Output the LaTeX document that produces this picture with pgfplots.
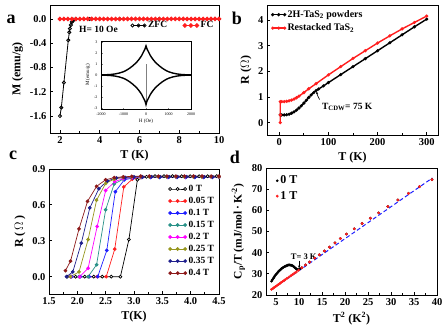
\documentclass[border=0pt]{standalone}
\usepackage{fontspec}
\setmainfont{Liberation Serif}
\usepackage{pgfplots}
\pgfplotsset{compat=1.18}
\usetikzlibrary{arrows.meta}
\definecolor{cred}{RGB}{255,30,30}
\definecolor{cblue}{RGB}{30,30,255}
\definecolor{cteal}{RGB}{40,145,135}
\definecolor{cmag}{RGB}{255,0,255}
\definecolor{colive}{RGB}{150,150,30}
\definecolor{cnavy}{RGB}{30,30,140}
\definecolor{cbrown}{RGB}{140,25,25}
\pgfplotsset{
  panel/.style={scale only axis, anchor=south west,
    axis line style={line width=1pt}, tick style={line width=0.8pt, black},
    tick align=inside, major tick length=3pt, minor tick length=2pt,
    xtick pos=bottom, ytick pos=left, minor x tick num=1,
    /pgf/number format/assume math mode=true,
    tick label style={font=\bfseries\fontsize{10.5}{12}\selectfont},
    label style={font=\bfseries\fontsize{12}{14}\selectfont},
    legend cell align=left,
  },
}
\begin{document}
\begin{tikzpicture}[x=1pt,y=1pt]
\path[use as bounding box] (0,0) rectangle (447,325);
% ---------------- panel a
\begin{axis}[panel, at={(50pt,192pt)}, width=169pt, height=128pt,
  xmin=1.5, xmax=10, ymin=-1.88, ymax=0.23,
  xtick={2,4,6,8,10}, ytick={-1.6,-1.2,-0.8,-0.4,0},
  yticklabel style={/pgf/number format/.cd, fixed, fixed zerofill, precision=1},
  xlabel={T (K)}, ylabel={M (emu/g)},
  legend style={at={(rel axis cs:0.46,0.84)}, anchor=west, draw=none, fill=none,
    legend columns=-1, font=\bfseries\fontsize{9.5}{11}\selectfont,
    /tikz/every even column/.append style={column sep=14pt}},
  legend image code/.code={\draw[#1] plot coordinates {(0pt,0pt) (6pt,0pt) (12pt,0pt)};},
  ]
\addplot[black, line width=0.8pt, mark=o, mark size=1.6pt] coordinates {
(2.0,-1.6)(2.07,-1.46)(2.2,-1.05)(2.42,-0.35)(2.47,-0.22)(2.5,-0.16)(2.55,-0.1)(2.6,-0.05)(2.65,-0.03)(2.7,-0.01)(2.8,0)(3.5,0)(5,0)(7,0)(10,0)};
\addplot[cred, line width=1pt, mark=*, mark size=1.8pt] coordinates {
(2.0,0)(2.2,0)(2.4,0)(2.6,0)(2.8,0)(3.0,0)(3.2,0)(3.4,0)(3.6,0)(3.8,0)(4.0,0)(4.2,0)(4.4,0)(4.6,0)(4.8,0)(5.0,0)(5.2,0)(5.4,0)(5.6,0)(5.8,0)(6.0,0)(6.2,0)(6.4,0)(6.6,0)(6.8,0)(7.0,0)(7.2,0)(7.4,0)(7.6,0)(7.8,0)(8.0,0)(8.2,0)(8.4,0)(8.6,0)(8.8,0)(9.0,0)(9.2,0)(9.4,0)(9.6,0)(9.8,0)(10.0,0)};
\legend{ZFC, FC}
\node[font=\bfseries\fontsize{9.5}{11}\selectfont] at (axis cs:3.94,-0.165) {H= 10 Oe};
\end{axis}
% inset
\begin{axis}[scale only axis, anchor=south west, at={(101pt,216pt)}, width=90pt, height=68pt,
  xmin=-2000, xmax=2000, ymin=-3.1, ymax=3.1,
  xtick={-2000,-1000,0,1000,2000}, ytick={-3,-2,-1,0,1,2,3},
  tick align=inside, major tick length=1.5pt, xtick pos=bottom, ytick pos=left,
  axis line style={line width=0.5pt}, tick style={line width=0.4pt},
  /pgf/number format/assume math mode=true,
  scaled x ticks=false,
  xticklabel style={font=\fontsize{4}{5}\selectfont, /pgf/number format/set thousands separator={}},
  yticklabel style={font=\fontsize{4}{5}\selectfont},
  xlabel={H (Oe)}, ylabel={M (emu/g)},
  label style={font=\fontsize{5}{6}\selectfont},
  xlabel style={yshift=3pt}, ylabel style={yshift=-3pt},
  ]
\addplot[gray, line width=0.4pt] coordinates {(0,1)(0,-2.4)};
\addplot[black, line width=1.4pt] coordinates {
(-2000,0.01)(-1800,0.02)(-1600,0.04)(-1400,0.09)(-1200,0.17)(-1000,0.3)(-900,0.4)(-800,0.52)(-700,0.66)(-600,0.82)(-500,1.0)(-400,1.2)(-300,1.45)(-250,1.6)(-200,1.75)(-150,1.95)(-100,2.15)(-50,2.35)(-25,2.5)(0,2.65)(25,2.5)(50,2.35)(100,2.15)(150,1.95)(200,1.75)(250,1.6)(300,1.45)(400,1.2)(500,1.0)(600,0.82)(700,0.66)(800,0.52)(900,0.4)(1000,0.3)(1200,0.17)(1400,0.09)(1600,0.04)(1800,0.02)(2000,0.01)};
\addplot[black, line width=1.4pt] coordinates {
(-2000,-0.01)(-1800,-0.02)(-1600,-0.04)(-1400,-0.09)(-1200,-0.17)(-1000,-0.3)(-900,-0.4)(-800,-0.52)(-700,-0.66)(-600,-0.82)(-500,-1.0)(-400,-1.2)(-300,-1.45)(-250,-1.6)(-200,-1.75)(-150,-1.95)(-100,-2.15)(-50,-2.35)(-25,-2.5)(0,-2.7)(25,-2.5)(50,-2.35)(100,-2.15)(150,-1.95)(200,-1.75)(250,-1.6)(300,-1.45)(400,-1.2)(500,-1.0)(600,-0.82)(700,-0.66)(800,-0.52)(900,-0.4)(1000,-0.3)(1200,-0.17)(1400,-0.09)(1600,-0.04)(1800,-0.02)(2000,-0.01)};
\end{axis}
% ---------------- panel b
\begin{axis}[panel, at={(267pt,190pt)}, width=171pt, height=130pt,
  xmin=-25, xmax=323, ymin=-0.48, ymax=4.58,
  xtick={0,100,200,300}, ytick={0,1,2,3,4},
  xlabel={T (K)}, ylabel={R ($\Omega$)},
  legend style={at={(rel axis cs:0.01,0.99)}, anchor=north west, draw=none, fill=none,
    font=\bfseries\fontsize{10}{11}\selectfont, row sep=1pt},
  legend image code/.code={\draw[#1] plot coordinates {(0pt,0pt) (6pt,0pt) (12pt,0pt)};},
  ]
\addplot[black, line width=1.4pt, mark=*, mark size=0.8pt] coordinates {
(2,0.3)(5,0.3)(10,0.3)(15,0.31)(20,0.33)(25,0.37)(30,0.42)(35,0.49)(40,0.57)(45,0.66)(50,0.76)(55,0.87)(60,0.98)(65,1.08)(70,1.17)(75,1.25)(80,1.31)(90,1.43)(100,1.56)(125,1.87)(150,2.18)(175,2.49)(200,2.8)(225,3.11)(250,3.42)(275,3.73)(300,4.03)};
\addplot[cred, line width=1.4pt, mark=*, mark size=0.8pt] coordinates {
(2,0)(2,0.3)(2,0.82)(5,0.82)(10,0.82)(15,0.83)(20,0.85)(25,0.88)(30,0.92)(35,0.97)(40,1.03)(50,1.17)(60,1.32)(75,1.52)(100,1.86)(125,2.18)(150,2.5)(175,2.8)(200,3.1)(225,3.38)(250,3.65)(275,3.9)(300,4.15)};
\legend{2H-TaS\textsubscript{2} powders, Restacked TaS\textsubscript{2}}
\draw[-{Stealth[length=3pt]}, line width=0.6pt] (axis cs:82,0.9) to[bend left=10] (axis cs:76,1.22);
\node[anchor=west, font=\bfseries\fontsize{9.5}{11}\selectfont] at (axis cs:80,0.62) {T\textsubscript{CDW}= 75 K};
\end{axis}
% ---------------- panel c
\begin{axis}[panel, at={(49pt,31pt)}, width=170pt, height=125pt,
  xmin=1.5, xmax=4.5, ymin=-0.145, ymax=0.9,
  xtick={1.5,2,2.5,3,3.5,4,4.5}, ytick={0,0.3,0.6,0.9},
  xticklabel style={/pgf/number format/.cd, fixed, fixed zerofill, precision=1},
  yticklabel style={/pgf/number format/.cd, fixed, fixed zerofill, precision=1},
  xlabel={T(K)}, ylabel={R\,(\,$\Omega$\,)},
  every axis plot/.append style={line width=0.7pt, mark=*, mark size=1.5pt},
  legend style={at={(rel axis cs:0.685,0.905)}, anchor=north west, draw=none, fill=none,
    font=\bfseries\fontsize{9.5}{10}\selectfont, row sep=0.2pt},
  legend image code/.code={\draw[#1] plot coordinates {(0pt,0pt) (7.5pt,0pt) (15pt,0pt)};},
  ]
\addplot[black, mark options={fill=white}] coordinates {(1.82,0)(1.97,0)(2.13,0)(2.29,0)(2.44,0)(2.6,0)(2.76,0)(2.91,0.31)(3.06,0.81)(3.22,0.835)(3.37,0.84)(3.53,0.84)(3.68,0.84)(3.84,0.84)(3.99,0.84)(4.15,0.84)(4.3,0.84)(4.46,0.84)};
\addplot[cred] coordinates {(1.89,0)(2.04,0)(2.2,0)(2.35,0)(2.51,0)(2.66,0.23)(2.82,0.75)(2.97,0.815)(3.13,0.83)(3.28,0.835)(3.44,0.835)(3.59,0.835)(3.75,0.835)(3.9,0.835)(4.06,0.835)(4.21,0.835)(4.37,0.835)(4.5,0.835)};
\addplot[cblue] coordinates {(1.9,0)(2.05,0)(2.21,0)(2.36,0)(2.52,0.22)(2.67,0.71)(2.83,0.81)(2.98,0.825)(3.14,0.83)(3.29,0.83)(3.45,0.83)(3.6,0.83)(3.76,0.83)(3.91,0.83)(4.07,0.83)(4.22,0.83)(4.38,0.83)(4.5,0.83)};
\addplot[cteal] coordinates {(1.88,0)(2.03,0)(2.19,0)(2.34,0.10)(2.5,0.56)(2.65,0.775)(2.81,0.815)(2.96,0.83)(3.12,0.835)(3.27,0.835)(3.43,0.835)(3.58,0.835)(3.74,0.835)(3.89,0.835)(4.05,0.835)(4.2,0.835)(4.36,0.835)(4.5,0.835)};
\addplot[cmag] coordinates {(1.88,0)(2.04,0)(2.19,0.07)(2.35,0.42)(2.5,0.72)(2.66,0.795)(2.81,0.82)(2.97,0.83)(3.12,0.835)(3.28,0.835)(3.43,0.835)(3.59,0.835)(3.74,0.835)(3.9,0.835)(4.05,0.835)(4.21,0.835)(4.36,0.835)(4.5,0.835)};
\addplot[colive] coordinates {(1.88,0)(2.03,0.04)(2.19,0.31)(2.34,0.64)(2.5,0.78)(2.65,0.815)(2.81,0.83)(2.96,0.835)(3.12,0.835)(3.27,0.835)(3.43,0.835)(3.58,0.835)(3.74,0.835)(3.89,0.835)(4.05,0.835)(4.2,0.835)(4.36,0.835)(4.5,0.835)};
\addplot[cnavy] coordinates {(1.81,0)(1.92,0.04)(2.07,0.28)(2.22,0.575)(2.38,0.735)(2.53,0.8)(2.69,0.825)(2.84,0.83)(3.0,0.835)(3.15,0.835)(3.31,0.835)(3.46,0.835)(3.62,0.835)(3.77,0.835)(3.93,0.835)(4.08,0.835)(4.24,0.835)(4.39,0.835)};
\addplot[cbrown] coordinates {(1.79,0.05)(1.88,0.13)(2.03,0.40)(2.18,0.63)(2.34,0.755)(2.5,0.81)(2.65,0.828)(2.81,0.835)(2.96,0.838)(3.12,0.84)(3.27,0.84)(3.43,0.84)(3.58,0.84)(3.74,0.84)(3.89,0.84)(4.05,0.84)(4.2,0.84)(4.36,0.84)(4.5,0.84)};
\legend{0 T, 0.05 T, 0.1 T, 0.15 T, 0.2 T, 0.25 T, 0.35 T, 0.4 T}
\end{axis}
% ---------------- panel d
\begin{axis}[panel, at={(266pt,30pt)}, width=171pt, height=127pt,
  xmin=2.8, xmax=40, ymin=20, ymax=80,
  xtick={5,10,15,20,25,30,35,40}, ytick={20,30,40,50,60,70,80},
  xlabel={T\textsuperscript{2} (K\textsuperscript{2})},
  ylabel={C\textsubscript{p}/T (mJ/mol\,·\,K\textsuperscript{-2})},
  ylabel style={font=\bfseries\fontsize{11.5}{13}\selectfont},
  legend style={at={(rel axis cs:0.04,0.97)}, anchor=north west, draw=none, fill=none,
    font=\bfseries\fontsize{12}{14}\selectfont, row sep=2pt},
  ]
\addplot[black, only marks, mark=*, mark size=1.2pt] coordinates {
(4.0,26.5)(4.2,27.2)(4.4,27.9)(4.6,28.6)(4.8,29.2)(5.0,29.8)(5.2,30.3)(5.4,30.8)(5.6,31.3)(5.8,31.7)(6.0,32.1)(6.2,32.5)(6.4,32.8)(6.6,33.1)(6.8,33.4)(7.0,33.6)(7.2,33.8)(7.4,34.0)(7.6,34.1)(7.8,34.2)(8.0,34.2)(8.2,34.1)(8.4,34.0)(8.6,33.8)(8.8,33.5)(9.0,33.1)(9.2,32.7)(9.4,32.3)(9.6,32.0)(9.9,32.0)(10.2,32.4)(10.6,32.9)(11.4,34.2)(12.3,35.6)(13.4,37.4)(14.4,39.0)(15.5,40.8)(16.6,42.6)(17.8,44.6)(19.0,46.7)(20.3,48.8)(22.0,51.3)(23.7,53.8)(25.5,56.3)(27.3,58.8)(29.3,61.8)(31.5,64.9)(33.8,68.0)(36.2,71.2)(38.9,74.5)};
\addplot[cred, only marks, mark=*, mark size=1.2pt] coordinates {
(4.0,22.7)(4.3,23.1)(4.6,23.6)(4.9,24.0)(5.2,24.5)(5.5,25.0)(5.8,25.4)(6.1,25.9)(6.4,26.4)(6.7,26.8)(7.0,27.3)(7.4,27.9)(7.8,28.5)(8.2,29.1)(8.6,29.7)(9.0,30.3)(9.4,30.9)(9.9,31.7)(10.6,32.9)(11.4,34.2)(12.3,35.6)(13.4,37.4)(14.4,39.0)(15.5,40.8)(16.6,42.6)(17.8,44.6)(19.0,46.7)(20.3,48.8)(22.0,51.3)(23.7,53.8)(25.5,56.3)(27.3,58.8)(29.3,61.8)(31.5,64.9)(33.8,68.0)(36.2,71.2)(38.9,74.5)};
\addplot[cblue, line width=1pt, dash pattern=on 4pt off 2.5pt] coordinates {(4,22.5)(39,75.3)};
\legend{0 T, 1 T}
\draw[-{Stealth[length=3pt]}, line width=0.6pt] (axis cs:10,36.2) -- (axis cs:10,32.6);
\node[font=\bfseries\fontsize{8.5}{10}\selectfont] at (axis cs:11,38.3) {T= 3 K};
\end{axis}
% panel letters
\node[font=\bfseries\fontsize{18}{18}\selectfont] at (11,306) {a};
\node[font=\bfseries\fontsize{18}{18}\selectfont] at (237,307) {b};
\node[font=\bfseries\fontsize{18}{18}\selectfont] at (13,170) {c};
\node[font=\bfseries\fontsize{18}{18}\selectfont] at (235,168) {d};
\end{tikzpicture}
\end{document}
